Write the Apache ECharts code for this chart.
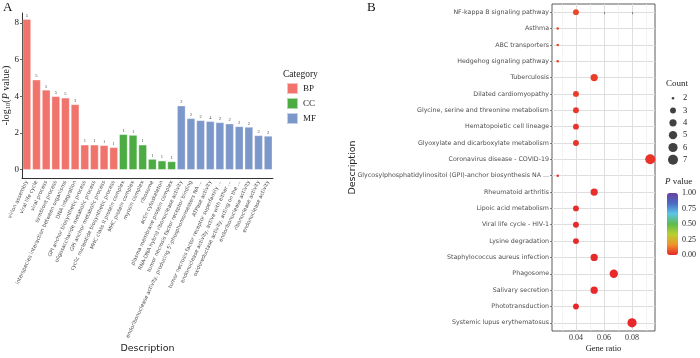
<!DOCTYPE html>
<html><head><meta charset="utf-8">
<script src="https://cdn.jsdelivr.net/npm/echarts@6/dist/echarts.min.js"></script>
<style>html,body{margin:0;padding:0;background:#fff}#c{width:700px;height:358px}</style>
</head><body><div id="c"></div>
<script>
// ---------- Panel A: GO enrichment ----------
const goTerms = [
  'virion assembly','viral life cycle','viral process','symbiont process',
  'interspecies interaction between organisms','DNA integration',
  'GPI anchor biosynthetic process','oligosaccharide metabolic process',
  'GPI anchor metabolic process','cyclic nucleotide biosynthetic process',
  'MHC class II protein complex','MHC protein complex','myosin complex','ribosome',
  'actin cytoskeleton','plasma membrane protein complex',
  'RNA-DNA hybrid ribonuclease activity','tumor necrosis factor receptor binding',
  "endoribonuclease activity, producing 5'-phosphomonoesters NA ...",'ATPase activity',
  'tumor necrosis factor receptor superfamily ...','endonuclease activity, active with either ...',
  'oxidoreductase activity, acting on the ...','endoribonuclease activity',
  'ribonuclease activity','endonuclease activity'
];
const goCategory = ['BP','BP','BP','BP','BP','BP','BP','BP','BP','BP',
  'CC','CC','CC','CC','CC','CC',
  'MF','MF','MF','MF','MF','MF','MF','MF','MF','MF'];
const goValues = [8.2,4.9,4.35,4.0,3.92,3.56,1.36,1.36,1.33,1.22,
  1.93,1.89,1.36,0.58,0.49,0.45,
  3.49,2.8,2.69,2.64,2.58,2.51,2.36,2.33,1.87,1.84];
const goCounts = [5,5,5,5,5,3,1,1,1,1, 1,1,1,1,1,1, 2,2,2,4,2,2,2,2,2,2];
const categoryNames = ['BP','CC','MF'];
const yTicksA = [0,2,4,6,8];

// ---------- Panel B: KEGG enrichment ----------
const keggPathways = [
  'NF-kappa B signaling pathway','Asthma','ABC transporters','Hedgehog signaling pathway',
  'Tuberculosis','Dilated cardiomyopathy','Glycine, serine and threonine metabolism',
  'Hematopoietic cell lineage','Glyoxylate and dicarboxylate metabolism',
  'Coronavirus disease - COVID-19','Glycosylphosphatidylinositol (GPI)-anchor biosynthesis NA ...',
  'Rheumatoid arthritis','Lipoic acid metabolism','Viral life cycle - HIV-1','Lysine degradation',
  'Staphylococcus aureus infection','Phagosome','Salivary secretion','Phototransduction',
  'Systemic lupus erythematosus'
];
const keggCounts = [3,2,2,2,4,3,3,3,3,7,2,4,3,3,3,4,5,4,3,6];
const geneRatio = [0.040,0.027,0.027,0.027,0.053,0.040,0.040,0.040,0.040,0.093,0.027,0.053,0.040,0.040,0.040,0.053,0.067,0.053,0.040,0.080];
const keggP = [0.05,0.045,0.045,0.045,0.035,0.03,0.025,0.02,0.02,0.02,0.01,0.01,0.008,0.006,0.006,0.004,0.003,0.003,0.002,0.001];
const ratioTicks = [0.04,0.06,0.08];
const ratioMinorTicks = [0.03,0.05,0.07,0.09];
const countLevels = [2,3,4,5,6,7];
const pTicks = [0,0.25,0.5,0.75,1];

// ---------- styles ----------
const SERIF = 'Liberation Serif';
const SANS = 'DejaVu Sans';
const catColors = {BP:'#F0736C', CC:'#4CAB42', MF:'#7C97CA'};
const pColors = ['#E8262A','#F0932B','#B8D030','#5DBB4C','#5CC5E6','#4A6CC4','#6B3FA0'];
function dotSize(c){ return 2.5 + 7.5*Math.sqrt((c-2)/5); }

const chart = echarts.init(document.getElementById('c'), null, {renderer:'canvas'});

const barSeries = categoryNames.map(c => ({
  type:'bar', name:c, stack:'go', xAxisIndex:0, yAxisIndex:0,
  barCategoryGap:'14%',
  data: goValues.map((v,i) => goCategory[i] === c ? v : '-'),
  itemStyle:{color:catColors[c], borderColor:'rgba(255,255,255,0.55)', borderWidth:0.6},
  label:{show:true, position:'top', distance:1, fontSize:4.5, fontFamily:SERIF, color:'#444',
    formatter: p => String(goCounts[p.dataIndex])},
  emphasis:{disabled:true}
}));

const option = {
  animation:false,
  backgroundColor:'#fff',
  title:[
    {text:'A', left:3, top:1, padding:0, textStyle:{fontFamily:SERIF, fontSize:13, fontWeight:'normal', color:'#111'}},
    {text:'B', left:367, top:1, padding:0, textStyle:{fontFamily:SERIF, fontSize:13, fontWeight:'normal', color:'#111'}},
    {text:'Category', left:283, top:69, padding:0, textStyle:{fontFamily:SERIF, fontSize:9.5, fontWeight:'normal', color:'#222'}},
    {text:'Count', left:666, top:79, padding:0, textStyle:{fontFamily:SERIF, fontSize:9, fontWeight:'normal', color:'#222'}},
    {text:'{i|P} value', left:665, top:177, padding:0, textStyle:{fontFamily:SERIF, fontSize:9, fontWeight:'normal', color:'#222',
      rich:{i:{fontFamily:SERIF, fontSize:9, fontStyle:'italic', color:'#222'}}}}
  ],
  legend:{
    data:categoryNames, orient:'vertical', left:286, top:82, padding:0,
    itemWidth:11, itemHeight:11, itemGap:2, icon:'rect', selectedMode:false,
    textStyle:{fontFamily:SERIF, fontSize:9, color:'#222'}
  },
  grid:[
    {left:22, top:13, width:251, height:165},
    {left:552, top:4, width:103, height:328, show:true, borderColor:'#333', borderWidth:0.8, backgroundColor:'transparent'},
    {left:668, top:92, width:10, height:74},
    {left:667, top:193, width:11, height:62}
  ],
  xAxis:[
    {type:'category', gridIndex:0, data:goTerms,
      axisLine:{onZero:false, lineStyle:{color:'#000', width:0.8}},
      axisTick:{alignWithLabel:true, interval:0, length:2, lineStyle:{color:'#000', width:0.6}},
      axisLabel:{interval:0, rotate:65, fontSize:5.2, fontFamily:SANS, color:'#4D4D4D', margin:3},
      name:'Description', nameLocation:'middle', nameGap:166, nameMoveOverlap:false,
      nameTextStyle:{fontFamily:SANS, fontSize:9.5, color:'#222'}},
    {type:'value', gridIndex:1, min:0.0229, max:0.0964, position:'bottom',
      axisLine:{show:false},
      axisTick:{customValues:ratioTicks, length:2, lineStyle:{color:'#333', width:0.6}},
      axisLabel:{customValues:ratioTicks, fontFamily:SERIF, fontSize:8, color:'#333', margin:3,
        formatter:v => v.toFixed(2)},
      splitLine:{show:true, lineStyle:{color:'#DEDEDE', width:1}},
      name:'Gene ratio', nameLocation:'middle', nameGap:13, nameMoveOverlap:false,
      nameTextStyle:{fontFamily:SERIF, fontSize:8.5, color:'#222'}},
    {type:'value', gridIndex:1, min:0.0229, max:0.0964, position:'top',
      axisLine:{show:false}, axisLabel:{show:false},
      axisTick:{show:false, customValues:ratioMinorTicks},
      splitLine:{show:true, lineStyle:{color:'#EEEEEE', width:0.7}}},
    {type:'value', gridIndex:2, min:-1, max:1, show:false},
    {type:'value', gridIndex:3, min:0, max:1, show:false}
  ],
  yAxis:[
    {type:'value', gridIndex:0, min:-0.45, max:8.54,
      axisLine:{show:true, lineStyle:{color:'#000', width:0.8}},
      axisTick:{show:true, customValues:yTicksA, length:2, lineStyle:{color:'#000', width:0.6}},
      axisLabel:{customValues:yTicksA, fontFamily:SERIF, fontSize:9, color:'#222', margin:3},
      splitLine:{show:false},
      name:'{n|-log}{s|10}{n|(}{i|P}{n| value)}', nameLocation:'middle', nameGap:10, nameRotate:90, nameMoveOverlap:false,
      nameTextStyle:{fontFamily:SERIF, fontSize:10, color:'#222',
        rich:{
          n:{fontFamily:SERIF, fontSize:10, color:'#222', lineHeight:12},
          s:{fontFamily:SERIF, fontSize:6.5, color:'#222', lineHeight:6, verticalAlign:'bottom'},
          i:{fontFamily:SERIF, fontSize:10, fontStyle:'italic', color:'#222', lineHeight:12}
        }}},
    {type:'category', gridIndex:1, data:keggPathways, inverse:true, position:'left',
      axisLine:{show:false},
      axisTick:{show:true, alignWithLabel:true, length:2, lineStyle:{color:'#333', width:0.6}},
      axisLabel:{fontFamily:SANS, fontSize:6.3, color:'#4D4D4D', margin:3},
      splitLine:{show:false},
      name:'Description', nameLocation:'middle', nameGap:194, nameRotate:90, nameMoveOverlap:false,
      nameTextStyle:{fontFamily:SANS, fontSize:9.5, color:'#222'}},
    {type:'value', gridIndex:1, min:-0.5, max:keggPathways.length-0.5, inverse:true, position:'right',
      axisLine:{show:false}, axisLabel:{show:false},
      axisTick:{show:false, customValues:keggPathways.map((_,i)=>i)},
      splitLine:{show:true, lineStyle:{color:'#DEDEDE', width:1}}},
    {type:'category', gridIndex:2, data:countLevels.map(String), inverse:true, position:'right',
      axisLine:{show:false}, axisTick:{show:false},
      axisLabel:{fontFamily:SERIF, fontSize:8.5, color:'#222', margin:5}},
    {type:'value', gridIndex:3, min:0, max:1, position:'right',
      axisLine:{show:false}, axisTick:{show:false},
      axisLabel:{customValues:pTicks, fontFamily:SERIF, fontSize:8, color:'#222', margin:4,
        formatter:v => v.toFixed(2)},
      splitLine:{show:false}}
  ],
  visualMap:{
    type:'continuous', min:0, max:1, dimension:3, seriesIndex:3,
    inRange:{color:pColors}, calculable:false, hoverLink:false,
    left:667, top:193, itemWidth:11, itemHeight:62, padding:0, showLabel:false
  },
  series:[
    ...barSeries,
    {type:'scatter', xAxisIndex:1, yAxisIndex:1,
      data:keggPathways.map((p,i) => [geneRatio[i], p, keggCounts[i], keggP[i]]),
      symbolSize: v => dotSize(v[2]), itemStyle:{opacity:1}, emphasis:{disabled:true}},
    {type:'scatter', xAxisIndex:3, yAxisIndex:3,
      data:countLevels.map(c => [0, String(c), c]),
      symbolSize: v => dotSize(v[2]), itemStyle:{color:'#111'}, emphasis:{disabled:true}}
  ]
};
chart.setOption(option);
</script></body></html>
